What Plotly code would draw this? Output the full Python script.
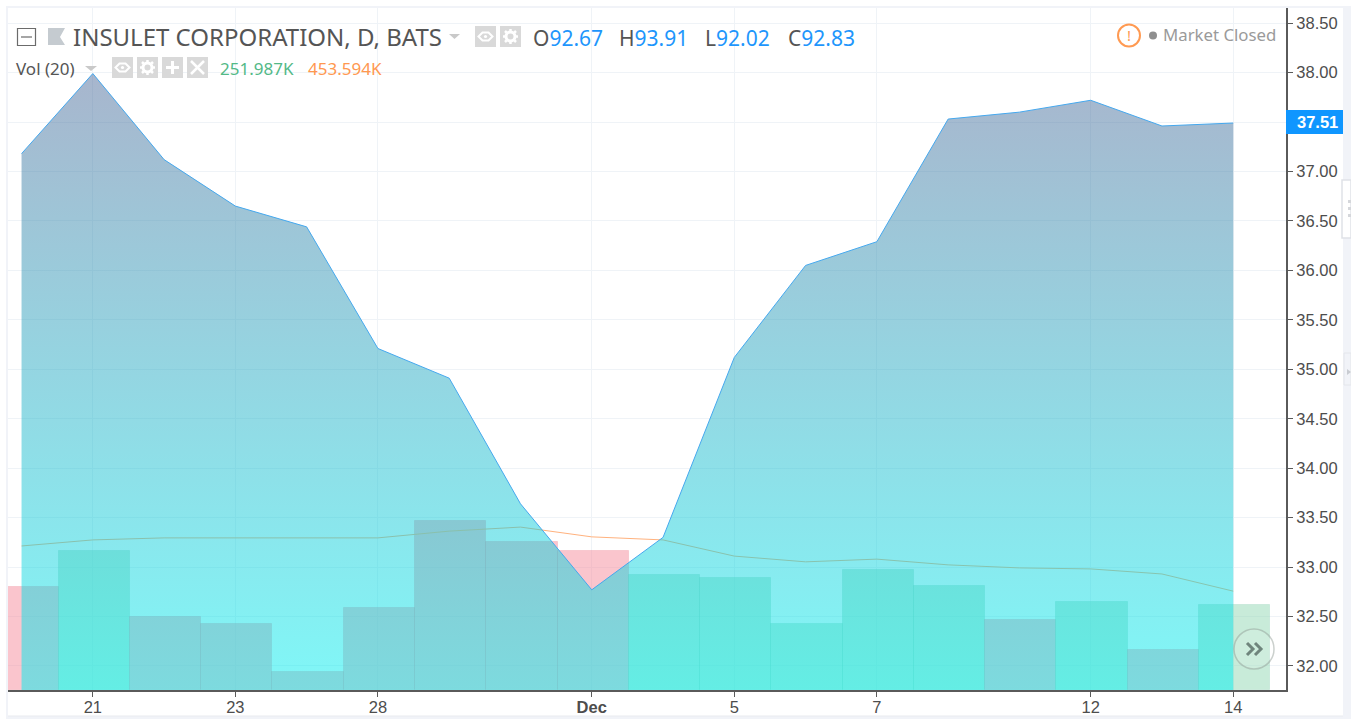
import plotly.graph_objects as go

W, H = 1351, 719
ML, MR, MT, MB = 8, 65, 8, 29

# ---------- data ----------
dates = ["Nov 20", "Nov 21", "Nov 22", "Nov 23", "Nov 27", "Nov 28", "Nov 29", "Nov 30", "Dec 1",
         "Dec 4", "Dec 5", "Dec 6", "Dec 7", "Dec 8", "Dec 11", "Dec 12", "Dec 13", "Dec 14"]
price = [37.18, 37.99, 37.12, 36.65, 36.44, 35.21, 34.91, 33.64, 32.77,
         33.30, 35.12, 36.05, 36.29, 37.53, 37.60, 37.72, 37.46, 37.49]
volume_k = [305, 412, 216, 196, 53, 243, 501, 439, 412, 341, 332, 196, 356, 308, 208, 261, 119, 252]
volume_ma_k = [427, 445, 451, 451, 451, 451, 471, 483, 454, 445, 397, 380, 388, 371, 362, 359, 344, 293]
volume_up = [False, True, False, False, False, False, False, False, False,
             True, True, True, True, True, False, True, False, True]
x_tick_dates = ["Nov 21", "Nov 23", "Nov 28", "Dec 1", "Dec 5", "Dec 7", "Dec 12", "Dec 14"]
x_tick_labels = ["21", "23", "28", "<b>Dec</b>", "5", "7", "12", "14"]
y_ticks = [32, 32.5, 33, 33.5, 34, 34.5, 35, 35.5, 36, 36.5, 37, 37.5, 38, 38.5]
y_tick_labels = ["32.00", "32.50", "33.00", "33.50", "34.00", "34.50", "35.00", "35.50",
                 "36.00", "36.50", "37.00", "37.50", "38.00", "38.50"]

PW, PH = W - ML - MR, H - MT - MB


def px(x):
    return (x - ML) / PW


def py(y):
    return 1 - (y - MT) / PH


def path(points, close=False):
    s = " ".join(("M" if i == 0 else "L") + f"{px(a):.5f},{py(b):.5f}" for i, (a, b) in enumerate(points))
    return s + (" Z" if close else "")


BG = "#f1f3f8"
shapes = []


def rect(x0, y0, x1, y1, fill, line=None, lw=1, layer="above"):
    shapes.append(dict(type="rect", xref="paper", yref="paper", x0=px(x0), x1=px(x1), y0=py(y0), y1=py(y1),
                       fillcolor=fill, line=dict(color=line or "rgba(0,0,0,0)", width=lw if line else 0), layer=layer))


def circle(cx, cy, r, fill, line=None, lw=1):
    shapes.append(dict(type="circle", xref="paper", yref="paper", x0=px(cx - r), x1=px(cx + r), y0=py(cy - r), y1=py(cy + r),
                       fillcolor=fill, line=dict(color=line or "rgba(0,0,0,0)", width=lw if line else 0)))


def poly(points, fill=None, line=None, lw=1, close=False):
    shapes.append(dict(type="path", xref="paper", yref="paper", path=path(points, close),
                       fillcolor=fill or "rgba(0,0,0,0)", line=dict(color=line or "rgba(0,0,0,0)", width=lw if line else 0)))


# page frame
rect(6, 6, 1351, 719, BG, layer="below")
rect(8, 8, 1343, 716, "#ffffff", layer="below")

# legend icons
rect(17.5, 28.5, 35.5, 45.5, "rgba(0,0,0,0)", "#6b6b6b", 1.2)
poly([(21, 37), (32, 37)], line="#6b6b6b", lw=1.2)
poly([(48, 28), (65, 28), (60, 37), (65, 45), (48, 45)], fill="#c5cbd0", close=True)
poly([(449, 34), (460, 34), (454.5, 39)], fill="#c9c9c9", close=True)
poly([(85, 66), (97, 66), (91, 71)], fill="#c9c9c9", close=True)

for bx in (475, 500, 112, 137):
    by = 26 if bx >= 475 else 57
    rect(bx, by, bx + 21, by + 21, "#d9d9d9")
    cx, cy = bx + 10.5, by + 10.5
    if bx in (475, 112):
        poly([(cx - 7, cy), (cx - 3, cy - 4), (cx + 3, cy - 4), (cx + 7, cy), (cx + 3, cy + 4), (cx - 3, cy + 4)],
             line="#ffffff", lw=2, close=True)
        circle(cx, cy, 1.6, "#ffffff")
    else:
        circle(cx, cy, 4.5, "rgba(0,0,0,0)", "#ffffff", 3)
        for d in ((0, -7.5, 0, 7.5), (-7.5, 0, 7.5, 0), (-5.5, -5.5, 5.5, 5.5), (-5.5, 5.5, 5.5, -5.5)):
            poly([(cx + d[0], cy + d[1]), (cx + d[0] * 0.7, cy + d[1] * 0.7)], line="#ffffff", lw=2.5)
            poly([(cx + d[2], cy + d[3]), (cx + d[2] * 0.7, cy + d[3] * 0.7)], line="#ffffff", lw=2.5)
rect(162, 57, 183, 78, "#d9d9d9")
poly([(166, 67.5), (179, 67.5)], line="#ffffff", lw=3)
poly([(172.5, 61), (172.5, 74)], line="#ffffff", lw=3)
rect(187, 57, 208, 78, "#d9d9d9")
poly([(191, 61), (204, 74)], line="#ffffff", lw=2.5)
poly([(204, 61), (191, 74)], line="#ffffff", lw=2.5)

# market status
circle(1129, 35.5, 11, "rgba(0,0,0,0)", "#ff9a52", 2)
circle(1153, 35.5, 4, "#8f8f8f")

# last price tag
rect(1286, 110, 1343, 134, "#0f96ff")

# side tabs
rect(1342, 180, 1351, 238, "#ffffff", "#e0e2e7", 1.5)
for dy in (200, 207, 214):
    rect(1348, dy, 1351, dy + 3, "#d5d7db")
rect(1344, 353, 1351, 385, BG, "#e4e6eb", 1)
poly([(1347, 369), (1351, 372), (1347, 375)], fill="#c9ccd2", close=True)
poly([(8, 716), (1343, 716)], line="#e9ebf0", lw=1)

# scroll button
circle(1254, 649, 20, "rgba(255,255,255,0.12)", "rgba(140,150,145,0.45)", 1.5)
poly([(1247, 643), (1253, 649), (1247, 655)], line="#6f857c", lw=3)
poly([(1255, 643), (1261, 649), (1255, 655)], line="#6f857c", lw=3)

annotations = []


def label(x, y, text, size, color, font="Noto Sans", anchor="left"):
    annotations.append(dict(xref="paper", yref="paper", x=px(x), y=py(y), text=text, showarrow=False,
                            xanchor=anchor, yanchor="middle", borderpad=0, borderwidth=0,
                            font=dict(family=font, size=size, color=color)))


DARK = "#555555"
BLUE = "#1e96fc"
label(73, 37, "INSULET CORPORATION, D, BATS", 24, DARK)
for x, k, v in [(533, "O", "92.67"), (619, "H", "93.91"), (705, "L", "92.02"), (788, "C", "92.83")]:
    label(x, 38, f'<span style="color:{DARK}">{k}</span><span style="color:{BLUE}">{v}</span>', 21, BLUE)
label(16, 68, "Vol (20)", 17, DARK)
label(220, 68, "251.987K", 17, "#53b987")
label(308, 68, "453.594K", 17, "#ff9850")
label(1163, 35, "Market Closed", 16.8, "#9a9a9a")
label(1129, 35, "!", 15, "#ff9a52", anchor="center")
label(1317, 122, "<b>37.51</b>", 16.5, "#ffffff", font="Liberation Sans", anchor="center")

bar_colors = ["rgba(145,215,180,0.5)" if u else "rgba(245,139,155,0.5)" for u in volume_up]
bar_lines = ["rgba(130,205,170,0.25)" if u else "rgba(235,125,140,0.25)" for u in volume_up]

fig = go.Figure()
fig.add_trace(go.Bar(x=dates, y=volume_k, width=1, offset=-0.48,
                     marker=dict(color=bar_colors, line=dict(color=bar_lines, width=1)),
                     yaxis="y", hoverinfo="skip", showlegend=False))
fig.add_trace(go.Scatter(x=dates, y=volume_ma_k, mode="lines", line=dict(color="#ffb27e", width=1),
                         yaxis="y", hoverinfo="skip", showlegend=False))
fig.add_trace(go.Scatter(x=dates, y=price, mode="lines", line=dict(color="#45a8ee", width=1), fill="tozeroy",
                         fillgradient=dict(type="vertical", start=31.76, stop=37.99,
                                           colorscale=[[0, "rgba(0,240,240,0.5)"], [1, "rgba(80,108,155,0.5)"]]),
                         yaxis="y2", hoverinfo="skip", showlegend=False))

GRID = "#eff3f7"
fig.update_layout(
    width=W, height=H, autosize=False,
    margin=dict(l=ML, r=MR, t=MT, b=MB, pad=0, autoexpand=False),
    paper_bgcolor="#ffffff", plot_bgcolor="rgba(0,0,0,0)",
    showlegend=False, bargap=0,
    shapes=shapes, annotations=annotations,
    font=dict(family="Liberation Sans", color="#4d4d4d", size=16),
    xaxis=dict(type="category", categoryorder="array", categoryarray=dates,
               range=[-0.19, 17.74], tickmode="array", tickvals=x_tick_dates, ticktext=x_tick_labels,
               showgrid=True, gridcolor=GRID, gridwidth=1, zeroline=False,
               showline=True, linecolor="#5a5a5a", linewidth=2, ticks="outside", ticklen=5, tickcolor="#5a5a5a",
               ticklabelstandoff=-4,
               tickfont=dict(size=16.5, family="Liberation Sans", color="#4d4d4d")),
    yaxis=dict(range=[0, 2022], visible=False, showgrid=False, zeroline=False, fixedrange=True),
    yaxis2=dict(overlaying="y", side="right", anchor="x", range=[31.757, 38.653],
                tickmode="array", tickvals=y_ticks, ticktext=y_tick_labels,
                showgrid=True, gridcolor=GRID, gridwidth=1, zeroline=False,
                showline=True, linecolor="#5a5a5a", linewidth=2, ticks="outside", ticklen=5, tickcolor="#5a5a5a",
                tickfont=dict(size=16.5, family="Liberation Sans", color="#4d4d4d")),
)

fig.write_html("out.html", config={"displayModeBar": False},
               post_script="document.body.style.margin='0';document.body.style.overflow='hidden';")
